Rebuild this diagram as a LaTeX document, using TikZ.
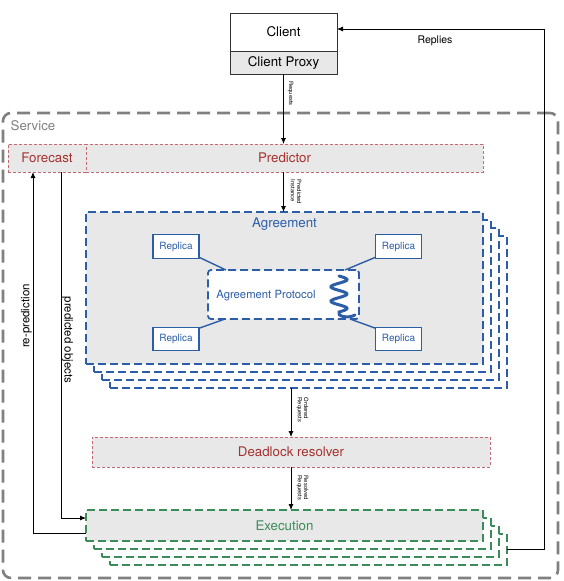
\documentclass[tikz,border=0pt]{standalone}
\usepackage{fontspec}
\setmainfont{TeX Gyre Heros}
\usetikzlibrary{arrows.meta,calc}
\definecolor{fillgray}{HTML}{E8E8E8}
\definecolor{redtxt}{HTML}{A5322F}
\definecolor{redline}{HTML}{C46A72}
\definecolor{bluec}{HTML}{2C5EA8}
\definecolor{greenc}{HTML}{3A8C58}
\definecolor{servgray}{HTML}{808080}
\definecolor{linec}{HTML}{333333}
\begin{document}
\begin{tikzpicture}[x=1pt,y=-1pt,
  font=\fontsize{13.3}{15}\selectfont,
  box/.style={draw, rectangle, inner sep=0pt, outer sep=0pt},
  clientbox/.style={box, draw=linec, line width=0.9pt, minimum width=107pt},
  redbox/.style={box, draw=redline, fill=fillgray, line width=0.9pt, dash pattern=on 3pt off 2pt, text=redtxt},
  bluebox/.style={box, draw=bluec, line width=1.8pt, dash pattern=on 8pt off 4pt, minimum width=397pt, minimum height=152pt},
  greenbox/.style={box, draw=greenc, line width=1.8pt, dash pattern=on 8pt off 4pt, minimum width=397pt, minimum height=31pt},
  replica/.style={box, draw=bluec, fill=white, line width=1.4pt, minimum width=46pt, minimum height=23.5pt, text=bluec, font=\fontsize{10}{12}\selectfont},
  conn/.style={draw=black, line width=0.8pt, -{Latex[length=6pt,width=5pt]}},
  tiny/.style={font=\fontsize{5.8}{6.2}\selectfont, align=left, inner sep=0pt, rotate=-90},
  sidelabel/.style={font=\fontsize{11.5}{13}\selectfont, inner sep=0pt}
]
\useasboundingbox (0,0) rectangle (564,581);

% Service container
\node[box, draw=servgray, line width=2.6pt, dash pattern=on 13pt off 7pt, rounded corners=8pt,
      minimum width=555pt, minimum height=465pt] (service) at (280.5,345.5) {};
\node[text=servgray, inner sep=0pt] (servicelbl) at (33,125.5) {Service};

% Client
\node[clientbox, fill=white, minimum height=38pt] (client) at (283.5,32) {Client};
\node[clientbox, fill=fillgray, minimum height=23pt] (proxy) at (283.5,62.5) {Client Proxy};

% Forecast / Predictor
\node[redbox, minimum width=78pt, minimum height=28pt] (forecast) at (47,158) {Forecast};
\node[redbox, minimum width=397pt, minimum height=28pt] (predictor) at (284.5,158) {Predictor};

% Agreement stack
\node[bluebox, fill=white] (agree4) at (308.5,312) {};
\node[bluebox, fill=white] (agree3) at (300.5,304) {};
\node[bluebox, fill=white] (agree2) at (292.5,296) {};
\node[bluebox, fill=fillgray] (agree) at (284.5,288) {};
\node[text=bluec, inner sep=0pt] (agreelbl) at (284.5,224.5) {Agreement};

\node[box, draw=bluec, fill=white, line width=1.8pt, dash pattern=on 8pt off 4pt, rounded corners=3pt,
      minimum width=151pt, minimum height=49pt] (proto) at (283.5,294.5) {};
\node[text=bluec, font=\fontsize{11.3}{13}\selectfont, inner sep=0pt] (protolbl) at (266,295.5) {Agreement Protocol};

\node[replica] (r1) at (176,246.5) {Replica};
\node[replica] (r2) at (398.5,246.5) {Replica};
\node[replica] (r3) at (176,339) {Replica};
\node[replica] (r4) at (398.5,339) {Replica};

\draw[draw=bluec, line width=1.4pt] ([yshift=1pt]r1.south east) -- ([xshift=18pt]proto.north west);
\draw[draw=bluec, line width=1.4pt] ([yshift=1pt]r2.south west) -- ([xshift=-14pt]proto.north east);
\draw[draw=bluec, line width=1.4pt] ([yshift=-1pt]r3.north east) -- ([xshift=17pt]proto.south west);
\draw[draw=bluec, line width=1.4pt] ([yshift=-1pt]r4.north west) -- ([xshift=-9pt]proto.south east);

% squiggle
\draw[draw=bluec, line width=3pt, line cap=round]
  plot[smooth, domain=0:1, samples=60, variable=\t] ({339+8*sin(\t*2.5*360)}, {276+36*\t})
  .. controls (336,316) and (348,319) .. (355,315);

% Deadlock resolver
\node[redbox, minimum width=398pt, minimum height=30pt] (deadlock) at (291,452) {Deadlock resolver};

% Execution stack
\node[greenbox, fill=white] (exec4) at (308.5,549.5) {};
\node[greenbox, fill=white] (exec3) at (300.5,541.5) {};
\node[greenbox, fill=white] (exec2) at (292.5,533.5) {};
\node[greenbox, fill=fillgray, text=greenc] (exec) at (284.5,525.5) {Execution};

% Connectors
\draw[conn] (proxy.south) -- (proxy.south |- predictor.north);
\node[tiny] (reqlbl) at (290.5,93.5) {Requests};

\draw[conn] (proxy.south |- predictor.south) -- (proxy.south |- agree.north);
\node[tiny] (predlbl) at (296,192) {Predicted\\Instance};

\draw[conn] (deadlock.north |- agree4.south) -- (deadlock.north);
\node[tiny] (ordlbl) at (302.5,410) {Ordered\\Requests};

\draw[conn] (deadlock.south) -- (deadlock.south |- exec.north);
\node[tiny] (reslbl) at (302.5,488) {Resolved\\Requests};

\draw[conn] ([yshift=-7.5pt]exec.west) -| ([xshift=-14pt]forecast.south);
\node[sidelabel, rotate=90] (replbl) at (26.5,316) {re-prediction};

\draw[conn] ([xshift=14pt]forecast.south) |- ([yshift=7.5pt]exec.west);
\node[sidelabel, rotate=-90] (predobjlbl) at (67.5,340) {predicted objects};

\coordinate (rc) at (544,29);
\draw[conn] (exec4.east) -| (rc) -- ([yshift=3pt]client.east);
\node[font=\fontsize{10.5}{12}\selectfont, inner sep=0pt] (replieslbl) at (435,40.5) {Replies};
\end{tikzpicture}
\end{document}
